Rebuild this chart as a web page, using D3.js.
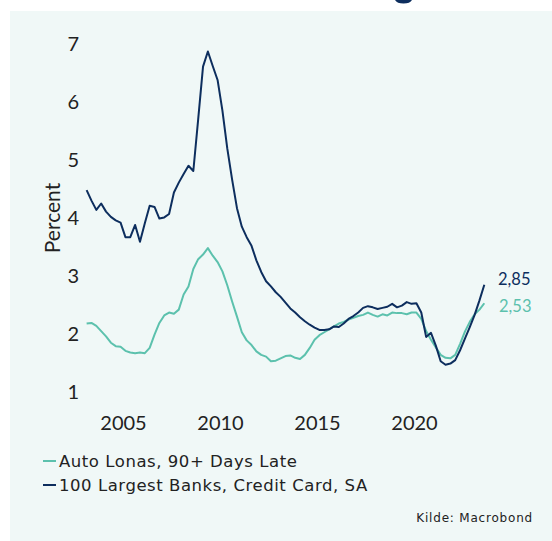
<!DOCTYPE html>
<html>
<head>
<meta charset="utf-8">
<script src="https://cdn.jsdelivr.net/npm/d3@7/dist/d3.min.js"></script>
<style>
  html, body { margin: 0; padding: 0; background: #ffffff; }
  svg { display: block; }
  text { font-family: Lato, "Noto Sans", sans-serif; fill: #222; }
</style>
</head>
<body>
<svg id="chart" width="552" height="541"></svg>
<script>
// Quarterly delinquency rates, 2003Q1 – 2023Q3 (percent)
const startYear = 2003;
const autoLoans = [
  2.18, 2.19, 2.14, 2.05, 1.96, 1.85, 1.79, 1.78, 1.71, 1.68, 1.67, 1.68,
  1.67, 1.76, 1.99, 2.19, 2.32, 2.37, 2.35, 2.42, 2.68, 2.82, 3.12, 3.29,
  3.37, 3.48, 3.35, 3.24, 3.08, 2.84, 2.56, 2.30, 2.03, 1.89, 1.81, 1.70,
  1.64, 1.61, 1.53, 1.54, 1.58, 1.62, 1.63, 1.59, 1.57, 1.64, 1.76, 1.90,
  1.98, 2.03, 2.08, 2.13, 2.18, 2.21, 2.25, 2.28, 2.31, 2.33, 2.37, 2.33,
  2.30, 2.34, 2.32, 2.37, 2.36, 2.36, 2.34, 2.37, 2.37, 2.26, 2.05, 1.90,
  1.77, 1.64, 1.59, 1.58, 1.64, 1.83, 2.04, 2.21, 2.34, 2.42, 2.53
];
const creditCards = [
  4.48, 4.30, 4.14, 4.25, 4.11, 4.02, 3.96, 3.92, 3.67, 3.67, 3.88, 3.59,
  3.91, 4.21, 4.19, 3.99, 4.01, 4.07, 4.44, 4.61, 4.76, 4.90, 4.81, 5.70,
  6.61, 6.87, 6.62, 6.38, 5.85, 5.20, 4.66, 4.17, 3.85, 3.67, 3.52, 3.27,
  3.07, 2.91, 2.82, 2.72, 2.64, 2.54, 2.44, 2.37, 2.29, 2.22, 2.16, 2.11,
  2.07, 2.07, 2.08, 2.13, 2.12, 2.18, 2.26, 2.31, 2.37, 2.45, 2.48, 2.46,
  2.43, 2.45, 2.47, 2.52, 2.46, 2.49, 2.55, 2.52, 2.53, 2.37, 1.95, 2.02,
  1.80, 1.53, 1.47, 1.49, 1.55, 1.72, 1.92, 2.12, 2.33, 2.58, 2.85
];
const seriesNames = ["Auto Lonas, 90+ Days Late", "100 Largest Banks, Credit Card, SA"];
const endLabels = ["2,53", "2,85"];
const yTicks = [1, 2, 3, 4, 5, 6, 7];
const xTicks = [2005, 2010, 2015, 2020];
const yTitle = "Percent";
const sourceNote = "Kilde: Macrobond";

const colors = { auto: "#5cc1ad", card: "#0d2e5e", panel: "#f0f8f7" };

const svg = d3.select("#chart");

// light panel behind the chart
svg.append("rect").attr("x", 10).attr("y", 11).attr("width", 542).attr("height", 530)
  .attr("fill", colors.panel);

// descender of the heading glyph that sits just above the top edge
svg.append("path")
  .attr("d", "M395,0 Q397,3.6 403.5,3.6 Q410,3.6 412,0 Z")
  .attr("fill", colors.card);

// quarter midpoints in decimal years
const t = i => startYear + i / 4 + 0.125;

const x = d3.scaleLinear().domain([2005, 2020]).range([123, 414]);
const y = d3.scaleLinear().domain([1, 7]).range([392, 44]);

// y axis labels
const yAxis = svg.append("g").attr("transform", "translate(79,0)")
  .call(d3.axisLeft(y).tickValues(yTicks).tickSize(0).tickPadding(0).tickFormat(d3.format("d")));
yAxis.select(".domain").remove();
yAxis.selectAll("text").style("font-size", "20px").style("fill", "#222")
  .style("font-family", "Lato, sans-serif");

// x axis labels
const xAxis = svg.append("g").attr("transform", "translate(0,416)")
  .call(d3.axisBottom(x).tickValues(xTicks).tickSize(0).tickPadding(0).tickFormat(d3.format("d")));
xAxis.select(".domain").remove();
xAxis.selectAll("text").style("font-size", "20px").style("fill", "#222")
  .style("font-family", "Lato, sans-serif");

// y axis title
svg.append("text")
  .attr("transform", `translate(60,${y(4)}) rotate(-90)`)
  .attr("text-anchor", "middle")
  .style("font-size", "21px").text(yTitle);

const line = d3.line().x((d, i) => x(t(i))).y(d => y(d));

svg.append("path").datum(autoLoans).attr("d", line)
  .attr("fill", "none").attr("stroke", colors.auto).attr("stroke-width", 2)
  .attr("stroke-linejoin", "round");
svg.append("path").datum(creditCards).attr("d", line)
  .attr("fill", "none").attr("stroke", colors.card).attr("stroke-width", 2)
  .attr("stroke-linejoin", "round");

// end-of-series value labels
svg.append("text").attr("x", 498).attr("y", 285)
  .style("font-size", "16.5px").style("fill", colors.card).text(endLabels[1]);
svg.append("text").attr("x", 499).attr("y", 312)
  .style("font-size", "16.5px").style("fill", colors.auto).text(endLabels[0]);

// legend
const legend = svg.append("g");
[[seriesNames[0], colors.auto, 467], [seriesNames[1], colors.card, 491]].forEach(([name, c, by]) => {
  legend.append("line").attr("x1", 43).attr("x2", 56).attr("y1", by - 6).attr("y2", by - 6)
    .attr("stroke", c).attr("stroke-width", 2);
  legend.append("text").attr("x", 59).attr("y", by)
    .style("font-family", "'DejaVu Sans', sans-serif").style("font-size", "16.5px")
    .style("letter-spacing", "0.55px").text(name);
});

// source note
svg.append("text").attr("x", 533).attr("y", 522).attr("text-anchor", "end")
  .style("font-family", "'DejaVu Sans', sans-serif").style("font-size", "12px")
  .style("letter-spacing", "0.8px").text(sourceNote);
</script>
</body>
</html>
